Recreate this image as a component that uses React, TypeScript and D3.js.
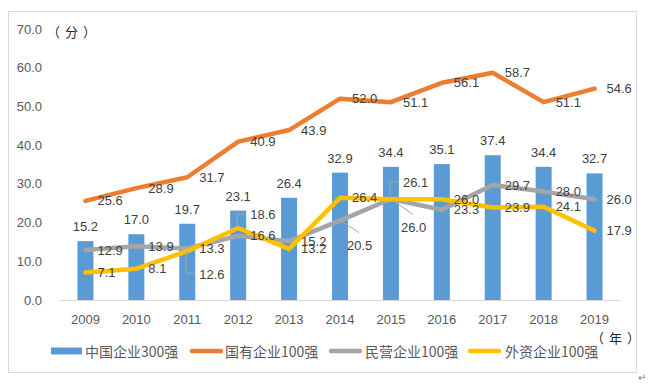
import React from "react";
import * as d3 from "d3";

const years = ["2009", "2010", "2011", "2012", "2013", "2014", "2015", "2016", "2017", "2018", "2019"];
const top300 = [15.2, 17.0, 19.7, 23.1, 26.4, 32.9, 34.4, 35.1, 37.4, 34.4, 32.7];
const stateOwned = [25.6, 28.9, 31.7, 40.9, 43.9, 52.0, 51.1, 56.1, 58.7, 51.1, 54.6];
const privateOwned = [12.9, 13.9, 13.3, 16.6, 15.2, 20.5, 26.1, 23.3, 29.7, 28.0, 26.0];
const foreignOwned = [7.1, 8.1, 12.6, 18.6, 13.2, 26.4, 26.0, 26.0, 23.9, 24.1, 17.9];
const yTicks = [0, 10, 20, 30, 40, 50, 60, 70];

const barName = "中国企业300强";
const lineSeries = [
    { name: "国有企业100强", values: stateOwned, color: "#ED7D31" },
    { name: "民营企业100强", values: privateOwned, color: "#A5A5A5" },
    { name: "外资企业100强", values: foreignOwned, color: "#FFC000" },
];
const barColor = "#5B9BD5";

// labels that were dragged away from their point (series index -> year index -> offset)
const labelNudge: Record<string, { dx: number; dy: number; leader: string }> = {
    "2-2": { dx: 0, dy: 23, leader: "v" },
    "2-3": { dx: 0, dy: -13, leader: "v" },
    "1-5": { dx: -5, dy: 25, leader: "diag" },
    "1-6": { dx: 0, dy: -16, leader: "v" },
    "2-6": { dx: -2, dy: 28, leader: "diag" },
};

const font = "'Liberation Sans', Arial, sans-serif";
const cjk = "'Noto Sans CJK SC', 'Liberation Sans', sans-serif";
const unitStyle: any = { textSpacingTrim: "space-all", letterSpacing: "5px" };

function App() {
    const width = 656;
    const height = 385;

    const x = d3.scaleBand().domain(years).range([60, 620]);
    const y = d3.scaleLinear().domain([0, 70]).range([300, 29]);
    const cx = (i: number) => (x(years[i]) as number) + x.bandwidth() / 2;
    const barW = 16;

    const line = d3
        .line<number>()
        .x((d, i) => cx(i))
        .y((d) => y(d));

    const legendItems = [
        { name: barName, color: barColor, kind: "bar", x0: 51, tx: 85 },
        { name: lineSeries[0].name, color: lineSeries[0].color, kind: "line", x0: 190, tx: 225 },
        { name: lineSeries[1].name, color: lineSeries[1].color, kind: "line", x0: 329, tx: 365 },
        { name: lineSeries[2].name, color: lineSeries[2].color, kind: "line", x0: 468, tx: 505 },
    ];

    return (
        <svg
            width={width}
            height={height}
            style={{ position: "absolute", left: 0, top: 0, background: "#fff" }}
        >
            <rect x={8.5} y={11.5} width={628} height={361} fill="#fff" stroke="#D9D9D9" />

            {/* y axis labels */}
            {yTicks.map((t) => (
                <text
                    key={t}
                    x={42}
                    y={y(t) + 4.5}
                    textAnchor="end"
                    fontFamily={font}
                    fontSize={13}
                    fill="#595959"
                >
                    {t.toFixed(1)}
                </text>
            ))}
            <text x={47} y={36.5} fontFamily={cjk} fontSize={13} fill="#262626" style={unitStyle}>
                （分）
            </text>

            {/* bars */}
            {top300.map((v, i) => (
                <rect
                    key={"b" + i}
                    x={cx(i) - barW / 2}
                    y={y(v)}
                    width={barW}
                    height={y(0) - y(v)}
                    fill={barColor}
                />
            ))}

            <line x1={60} x2={620} y1={300.5} y2={300.5} stroke="#D9D9D9" />

            {/* x labels */}
            {years.map((yr, i) => (
                <text
                    key={yr}
                    x={cx(i)}
                    y={323.5}
                    textAnchor="middle"
                    fontFamily={font}
                    fontSize={13}
                    fill="#595959"
                >
                    {yr}
                </text>
            ))}
            <text x={591} y={343} fontFamily={cjk} fontSize={13} fill="#262626" style={unitStyle}>
                （年）
            </text>

            {/* lines */}
            {lineSeries.map((s) => (
                <path
                    key={s.name}
                    d={line(s.values) || ""}
                    fill="none"
                    stroke={s.color}
                    strokeWidth={4.5}
                    strokeLinejoin="round"
                    strokeLinecap="round"
                />
            ))}

            {/* bar labels */}
            {top300.map((v, i) => (
                <text
                    key={"bl" + i}
                    x={cx(i)}
                    y={y(v) - 10}
                    textAnchor="middle"
                    fontFamily={font}
                    fontSize={13}
                    fill="#404040"
                >
                    {v.toFixed(1)}
                </text>
            ))}

            {/* line labels */}
            {lineSeries.map((s, si) =>
                s.values.map((v, i) => {
                    const px = cx(i);
                    const py = y(v);
                    const n = labelNudge[si + "-" + i];
                    const lx = px + 12 + (n ? n.dx : 0);
                    const ly = py + (n ? n.dy : 0);
                    let leader = null;
                    if (n && n.leader === "v") {
                        leader = (
                            <polyline
                                points={`${px - 1},${py} ${px - 1},${ly - 1} ${lx - 4},${ly - 1}`}
                                fill="none"
                                stroke="#A6A6A6"
                                strokeWidth={1}
                            />
                        );
                    } else if (n && n.leader === "diag") {
                        leader = (
                            <line
                                x1={px + 2}
                                y1={py + 1}
                                x2={lx + 12}
                                y2={ly - 13}
                                stroke="#A6A6A6"
                                strokeWidth={1}
                            />
                        );
                    }
                    return (
                        <g key={si + "-" + i}>
                            {leader}
                            <text
                                x={lx}
                                y={ly + 4.5}
                                fontFamily={font}
                                fontSize={13}
                                fill="#404040"
                            >
                                {v.toFixed(1)}
                            </text>
                        </g>
                    );
                })
            )}

            {/* legend */}
            {legendItems.map((d) => (
                <g key={d.name}>
                    {d.kind === "bar" ? (
                        <rect x={d.x0} y={347.5} width={31} height={7} fill={d.color} />
                    ) : (
                        <line
                            x1={d.x0 + 2}
                            x2={d.x0 + 31}
                            y1={351}
                            y2={351}
                            stroke={d.color}
                            strokeWidth={4.5}
                            strokeLinecap="round"
                        />
                    )}
                    <text x={d.tx} y={356.5} fontFamily={cjk} fontSize={14} fill="#595959">
                        {d.name}
                    </text>
                </g>
            ))}

            <text x={638} y={381} fontFamily={font} fontSize={10} fill="#808080">
                ↵
            </text>
        </svg>
    );
}

export default App;
